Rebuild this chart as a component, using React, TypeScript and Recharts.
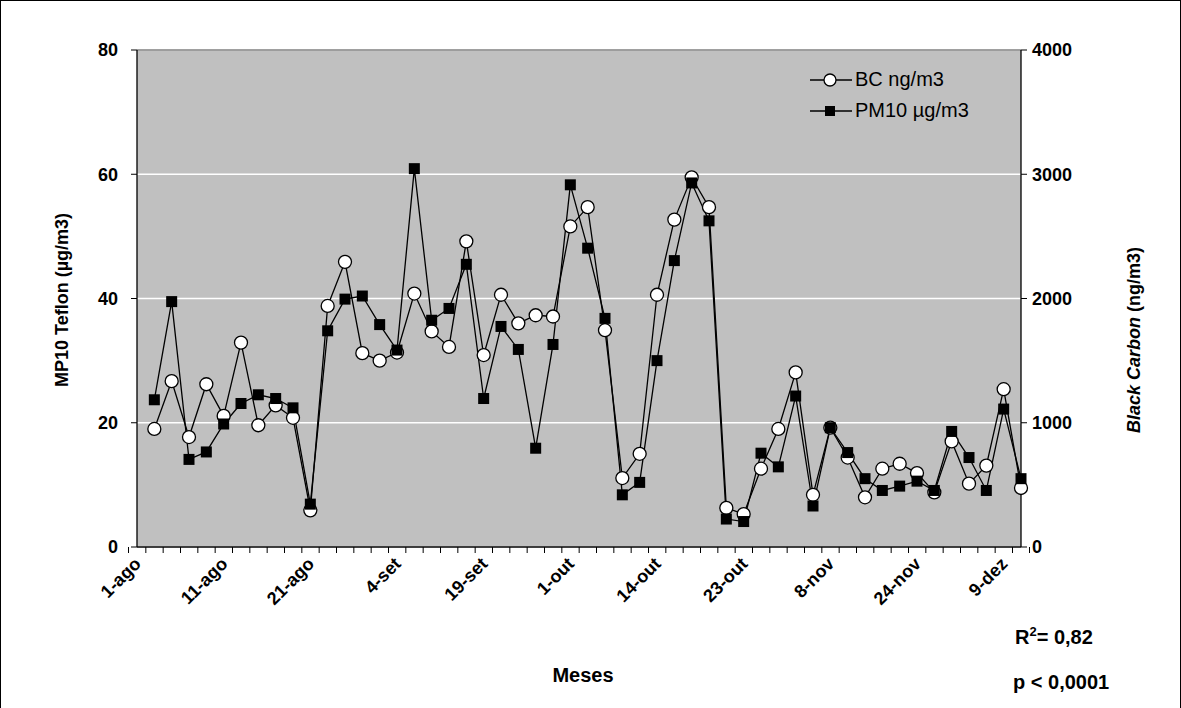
import React from 'react';
import {CartesianGrid, Line, LineChart, ReferenceLine, XAxis, YAxis} from 'recharts';

// sample index (the first slot of the axis has no sample)
const sampleIdx = Array.from({length: 52}, (_, i) => i);

// labels shown on every 5th category
const dateLabels = ['1-ago', '11-ago', '21-ago', '4-set', '19-set', '1-out', '14-out', '23-out', '8-nov', '24-nov', '9-dez'];

// PM10 Teflon, µg/m3 (left axis)
const pm10 = [
  null, 23.7, 39.5, 14.1, 15.3, 19.8, 23.1, 24.5, 23.9, 22.4, 6.9, 34.8, 39.9, 40.4, 35.8, 31.7, 60.9, 36.5,
  38.4, 45.5, 23.9, 35.5, 31.8, 15.9, 32.6, 58.3, 48.1, 36.8, 8.4, 10.4, 30.0, 46.1, 58.6, 52.5, 4.5, 4.1,
  15.1, 12.9, 24.3, 6.6, 19.2, 15.2, 11.0, 9.1, 9.8, 10.6, 9.1, 18.6, 14.4, 9.1, 22.2, 11.0,
];

// Black Carbon, ng/m3 (right axis)
const bc = [
  null, 950, 1335, 885, 1310, 1055, 1645, 980, 1140, 1040, 295, 1940, 2295, 1560, 1500, 1565, 2040, 1735,
  1610, 2460, 1545, 2030, 1800, 1865, 1855, 2580, 2735, 1745, 555, 750, 2030, 2635, 2975, 2735, 315, 265,
  630, 950, 1405, 420, 960, 720, 400, 630, 670, 595, 440, 850, 510, 655, 1270, 475,
];

const leftTicks = [0, 20, 40, 60, 80];
const rightTicks = [0, 1000, 2000, 3000, 4000];

const data = sampleIdx.map((i) => ({idx: i, pm10: pm10[i], bc: bc[i]}));

const W = 1181;
const H = 708;
const PLOT_LEFT = 137;
const PLOT_RIGHT = 1021;
const PLOT_TOP = 50;
const PLOT_BOTTOM = 547;
const BAND = (PLOT_RIGHT - PLOT_LEFT) / sampleIdx.length;
const FONT = '"Liberation Sans", Arial, sans-serif';

const XTick = (props: any) => {
  const {x, y, payload, index} = props;
  const half = BAND / 2;
  const v = payload.value as number;
  const lbl = v % 5 === 0 ? dateLabels[v / 5] : null;
  return (
    <g>
      <line x1={x - half} x2={x - half} y1={y} y2={y + 6} stroke="#000" />
      {index === sampleIdx.length - 1 && <line x1={x + half} x2={x + half} y1={y} y2={y + 6} stroke="#000" />}
      {lbl && (
        <text
          x={x + 5}
          y={y + 18}
          textAnchor="end"
          transform={`rotate(-45 ${x + 5} ${y + 18})`}
          fontFamily={FONT}
          fontWeight="bold"
          fontSize={18}
          fill="#000"
        >
          {lbl}
        </text>
      )}
    </g>
  );
};

const SquareDot = (p: any) => {
  if (p.cx == null || p.cy == null || p.value == null) return <g key={`sq-${p.index}`} />;
  return <rect key={`sq-${p.index}`} x={p.cx - 5.5} y={p.cy - 5.5} width={11} height={11} fill="#000" />;
};

const tickStyle = {fontFamily: FONT, fontWeight: 'bold' as const, fontSize: 18, fill: '#000'};

export default function App() {
  return (
    <div style={{position: 'absolute', left: 0, top: 0, width: W, height: H, background: '#fff', fontFamily: FONT}}>
      <LineChart width={W} height={H} data={data} margin={{top: PLOT_TOP, right: 0, bottom: 0, left: 0}}>
        <CartesianGrid yAxisId="left" vertical={false} stroke="#fff" strokeWidth={1.5} fill="#C0C0C0" fillOpacity={1} />
        <ReferenceLine yAxisId="left" y={80} stroke="#808080" strokeWidth={1.5} />
        <XAxis
          dataKey="idx"
          type="category"
          interval={0}
          height={H - PLOT_BOTTOM}
          tickSize={0}
          tickMargin={0}
          axisLine={{stroke: '#000', strokeWidth: 1.3}}
          tickLine={false}
          tick={<XTick />}
        />
        <YAxis
          yAxisId="left"
          width={PLOT_LEFT}
          domain={[0, 80]}
          ticks={leftTicks}
          tickSize={6}
          tickMargin={13}
          axisLine={{stroke: '#000', strokeWidth: 1.3}}
          tickLine={{stroke: '#000'}}
          tick={tickStyle}
        />
        <YAxis
          yAxisId="right"
          orientation="right"
          width={W - PLOT_RIGHT}
          domain={[0, 4000]}
          ticks={rightTicks}
          tickSize={6}
          tickMargin={5}
          axisLine={{stroke: '#000', strokeWidth: 1.3}}
          tickLine={{stroke: '#000'}}
          tick={{...tickStyle, textAnchor: 'start'}}
        />
        <Line
          yAxisId="right"
          dataKey="bc"
          stroke="#000"
          strokeWidth={1.3}
          dot={{r: 6.5, fill: '#fff', stroke: '#000', strokeWidth: 1.3}}
          isAnimationActive={false}
        />
        <Line
          yAxisId="left"
          dataKey="pm10"
          stroke="#000"
          strokeWidth={1.3}
          dot={SquareDot}
          isAnimationActive={false}
        />
      </LineChart>

      {/* legend */}
      <div style={{position: 'absolute', left: 808, top: 64, fontSize: 20, lineHeight: '31px', color: '#000'}}>
        <div style={{display: 'flex', alignItems: 'center'}}>
          <svg width={47} height={16}>
            <line x1={2} x2={44} y1={8} y2={8} stroke="#000" strokeWidth={1.3} />
            <circle cx={22} cy={8} r={6} fill="#fff" stroke="#000" strokeWidth={1.3} />
          </svg>
          <span>BC ng/m3</span>
        </div>
        <div style={{display: 'flex', alignItems: 'center'}}>
          <svg width={47} height={16}>
            <line x1={2} x2={44} y1={8} y2={8} stroke="#000" strokeWidth={1.3} />
            <rect x={17} y={3} width={10} height={10} fill="#000" />
          </svg>
          <span>PM10 µg/m3</span>
        </div>
      </div>

      {/* axis titles and notes */}
      <div style={{position: 'absolute', left: 62, top: 300, transform: 'translate(-50%, -50%) rotate(-90deg)', whiteSpace: 'nowrap', fontWeight: 'bold', fontSize: 18}}>
        MP10 Teflon (µg/m3)
      </div>
      <div style={{position: 'absolute', left: 1134, top: 340, transform: 'translate(-50%, -50%) rotate(-90deg)', whiteSpace: 'nowrap', fontWeight: 'bold', fontSize: 18}}>
        <i>Black Carbon</i> (ng/m3)
      </div>
      <div style={{position: 'absolute', left: 583, top: 675, transform: 'translate(-50%, -50%)', fontWeight: 'bold', fontSize: 20}}>Meses</div>
      <div style={{position: 'absolute', left: 1015, top: 624, fontWeight: 'bold', fontSize: 20, lineHeight: '26px'}}>
        R<sup style={{fontSize: 13, lineHeight: 0}}>2</sup>= 0,82
      </div>
      <div style={{position: 'absolute', left: 1013, top: 669, fontWeight: 'bold', fontSize: 20, lineHeight: '26px'}}>p &lt; 0,0001</div>

      <div style={{position: 'absolute', left: 0, top: 0, width: W - 2, height: H - 1, border: '1px solid #000', pointerEvents: 'none'}} />
    </div>
  );
}
